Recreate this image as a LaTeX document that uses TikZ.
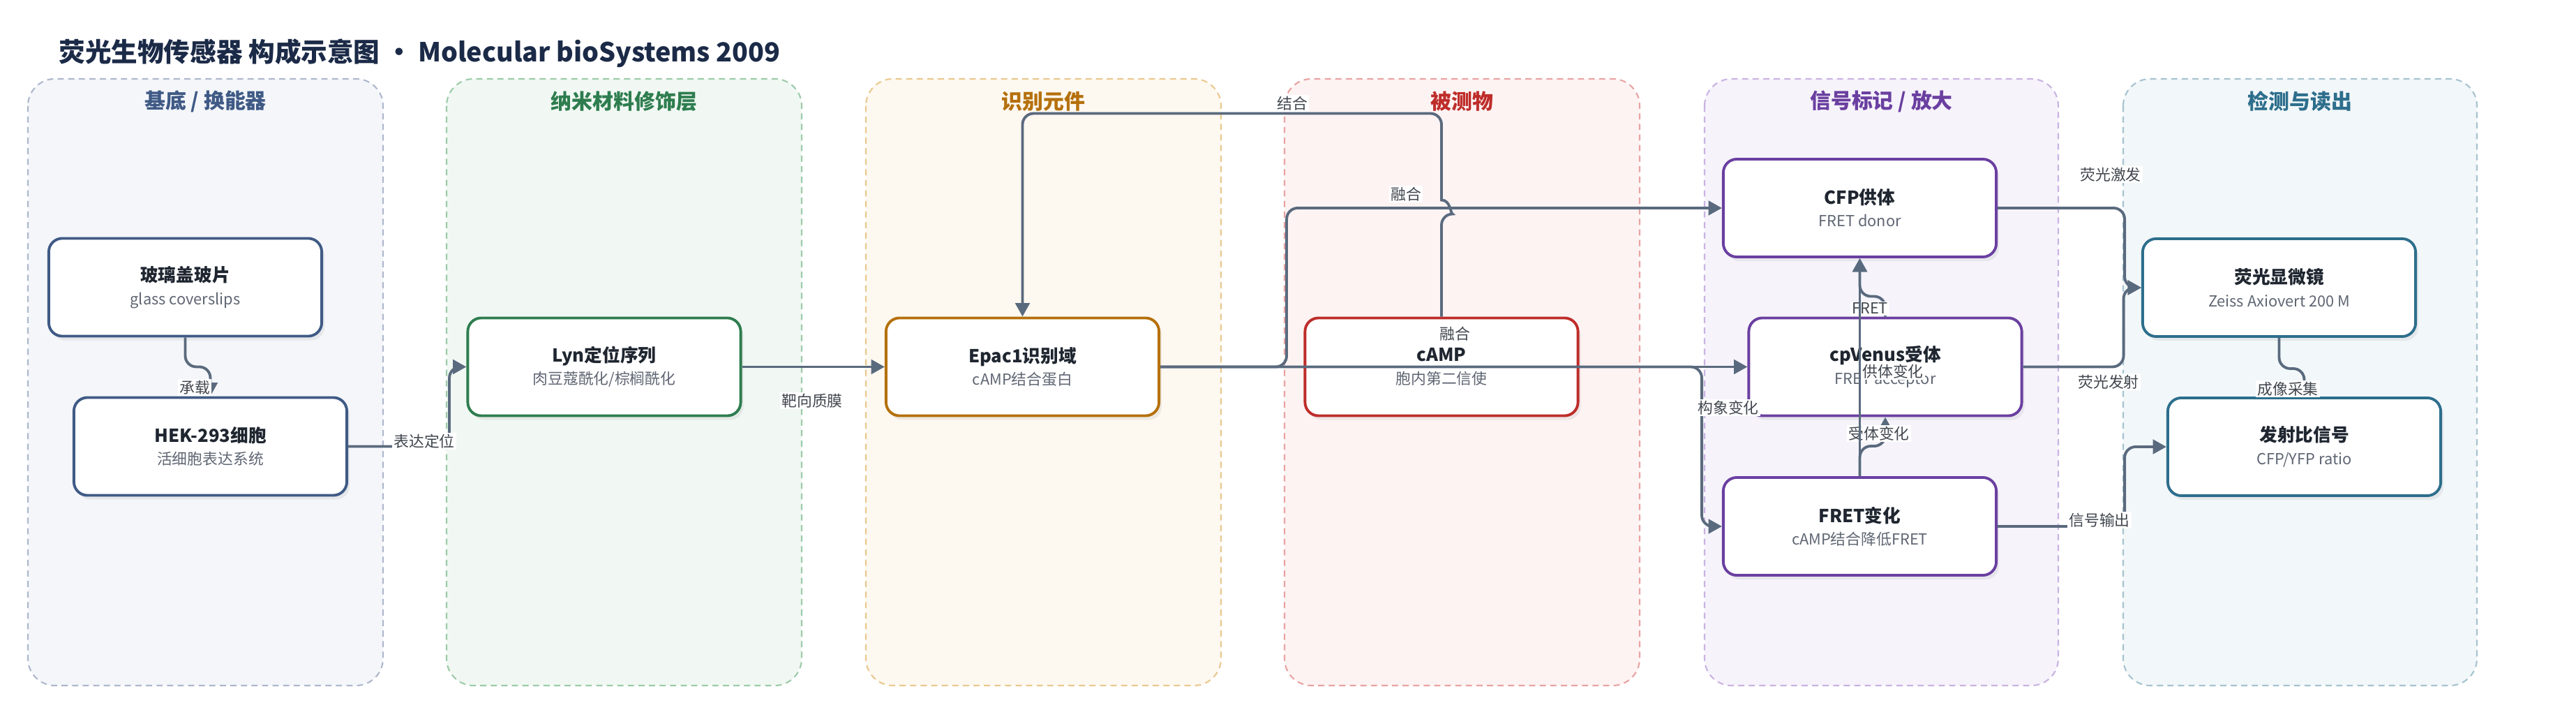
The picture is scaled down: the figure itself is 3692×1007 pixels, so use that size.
\documentclass[tikz,border=0pt]{standalone}
\usepackage{fontspec}
\setmainfont{Noto Sans CJK SC}
\usepackage{tikz}
\usetikzlibrary{shapes,arrows.meta,positioning,shadows}
\definecolor{tinta}{HTML}{1B2A47}
\definecolor{trazo}{HTML}{5A6A7E}
\definecolor{subgris}{HTML}{5F6673}
\definecolor{negro}{HTML}{1F2630}
\definecolor{azulc}{HTML}{3F5A85}\definecolor{azulf}{HTML}{F4F6FA}\definecolor{azulb}{HTML}{AEB8CC}
\definecolor{verdec}{HTML}{2E7D4F}\definecolor{verdef}{HTML}{F1F8F3}\definecolor{verdeb}{HTML}{9CCBA9}
\definecolor{ocrec}{HTML}{B5700C}\definecolor{ocref}{HTML}{FDF8F0}\definecolor{ocreb}{HTML}{E9C98F}
\definecolor{rojoc}{HTML}{BE2D2A}\definecolor{rojof}{HTML}{FDF3F3}\definecolor{rojob}{HTML}{E9A3A3}
\definecolor{moradoc}{HTML}{6A3FA0}\definecolor{moradof}{HTML}{F6F3FB}\definecolor{moradob}{HTML}{C9B3E2}
\definecolor{tealc}{HTML}{2D6E8C}\definecolor{tealf}{HTML}{F2F7F9}\definecolor{tealb}{HTML}{A6C3CF}
\newcommand{\caja}[2]{{\fontsize{7.3}{9.2}\selectfont\bfseries #1}\\{\color{subgris}#2}}
\tikzstyle{carril} = [draw, dashed, line width=0.6pt, rounded corners=11pt, dash pattern=on 2.5pt off 1.8pt]
\tikzstyle{titcarril} = [font=\fontsize{8.5}{10}\selectfont\bfseries]
\tikzstyle{bloque} = [draw, fill=white, line width=1.1pt, rectangle, rounded corners=5.5pt, minimum width=3.91cm, minimum height=1.40cm, align=center, text=negro, font=\fontsize{6.2}{9.2}\selectfont, drop shadow={opacity=0.12, shadow xshift=0.04cm, shadow yshift=-0.06cm}]
\tikzstyle{flecha} = [draw=trazo, line width=1.1pt, rounded corners=4.5pt, -{Triangle[length=5.5pt,width=5.8pt]}]
\tikzstyle{etiqueta} = [fill=white, text=negro!85, font=\fontsize{6.2}{7}\selectfont, inner sep=0.6pt]

\begin{document}
\begin{tikzpicture}[x=0.01cm, y=-0.01cm]
\useasboundingbox[fill=white] (0,0) rectangle (3692,1007);
% carriles
\draw[carril, draw=azulb, fill=azulf] (40,113) rectangle (549,982);
\draw[carril, draw=verdeb, fill=verdef] (640,113) rectangle (1149,982);
\draw[carril, draw=ocreb, fill=ocref] (1241,113) rectangle (1750,982);
\draw[carril, draw=rojob, fill=rojof] (1841,113) rectangle (2350,982);
\draw[carril, draw=moradob, fill=moradof] (2443,113) rectangle (2950,982);
\draw[carril, draw=tealb, fill=tealf] (3043,113) rectangle (3550,982);
\node[titcarril, text=azulc] at (294.5,145) {基底 / 换能器};
\node[titcarril, text=verdec] at (894.5,145) {纳米材料修饰层};
\node[titcarril, text=ocrec] at (1495.5,145) {识别元件};
\node[titcarril, text=rojoc] at (2095.5,145) {被测物};
\node[titcarril, text=moradoc] at (2696.5,145) {信号标记 / 放大};
\node[titcarril, text=tealc] at (3296.5,145) {检测与读出};
\node[anchor=west, text=tinta, font=\fontsize{10.7}{12}\selectfont\bfseries] (titulo) at (72,76) {荧光生物传感器 构成示意图 · Molecular bioSystems 2009};
% bloques
\node[bloque, draw=azulc] (vidrio) at (265.5,411.5) {\caja{玻璃盖玻片}{glass coverslips}};
\node[bloque, draw=azulc] (hek) at (301.5,639.5) {\caja{HEK-293细胞}{活细胞表达系统}};
\node[bloque, draw=verdec] (lyn) at (866,525.5) {\caja{Lyn定位序列}{肉豆蔻酰化/棕榈酰化}};
\node[bloque, draw=ocrec] (epac) at (1465.5,525.5) {\caja{Epac1识别域}{cAMP结合蛋白}};
\node[bloque, draw=rojoc] (camp) at (2066,525.5) {\caja{cAMP}{胞内第二信使}};
\node[bloque, draw=moradoc] (cfp) at (2665.5,298) {\caja{CFP供体}{FRET donor}};
\node[bloque, draw=moradoc] (cpv) at (2702,525.5) {\caja{cpVenus受体}{FRET acceptor}};
\node[bloque, draw=moradoc] (fret) at (2665.5,754) {\caja{FRET变化}{cAMP结合降低FRET}};
\node[bloque, draw=tealc] (mic) at (3266.5,412) {\caja{荧光显微镜}{Zeiss Axiovert 200 M}};
\node[bloque, draw=tealc] (razon) at (3302.5,640) {\caja{发射比信号}{CFP/YFP ratio}};
% conexiones
\draw[flecha] (vidrio.south) -- ++(0,42) -| (hek.north);
\draw[flecha] (hek.east) -- ++(145,0) |- (lyn.west);
\draw[flecha] (lyn.east) -- (epac.west);
\draw[flecha] (camp.north) -- ++(0,-147) [sharp corners] .. controls +(13,0) and +(13,0) .. ++(0,-20) [rounded corners=4.5pt] -- ++(0,-124) -| (epac.north);
\draw[flecha] (epac.east) -- ++(181,0) |- (cfp.west);
\draw[flecha] (epac.east) -- (cpv.west);
\draw[flecha] (epac.east) -- ++(776,0) |- (fret.west);
\draw[flecha] (cpv.north) -- ++(0,-29) -| (cfp.south);
\draw[flecha] (fret.north) -- ++(0,-43) -| (cpv.south);
\draw[flecha] (cfp.east) -- ++(182,0) |- (mic.west);
\draw[flecha] (cpv.east) -- ++(144,0) |- (mic.west);
\draw[flecha] (mic.south) -- ++(0,44) -| (razon.north);
\draw[flecha] (fret.east) -- ++(182,0) |- (razon.west);
% etiquetas
\node[etiqueta] at (279,555) {承载};
\node[etiqueta] at (608,632) {表达定位};
\node[etiqueta] at (1164,574) {靶向质膜};
\node[etiqueta] at (1852,148) {结合};
\node[etiqueta] at (2015,278) {融合};
\node[etiqueta] at (2085,478) {融合};
\node[etiqueta] at (2477,584) {构象变化};
\node[etiqueta] at (2680,442) {FRET};
\node[etiqueta] at (2693,621) {受体变化};
\node[etiqueta] at (2713,532) {供体变化};
\node[etiqueta] at (3025,250) {荧光激发};
\node[etiqueta] at (3022,547) {荧光发射};
\node[etiqueta] at (3279,557) {成像采集};
\node[etiqueta] at (3009,745) {信号输出};
\draw[flecha] (fret.north) -- (cfp.south);
\end{tikzpicture}
\end{document}
